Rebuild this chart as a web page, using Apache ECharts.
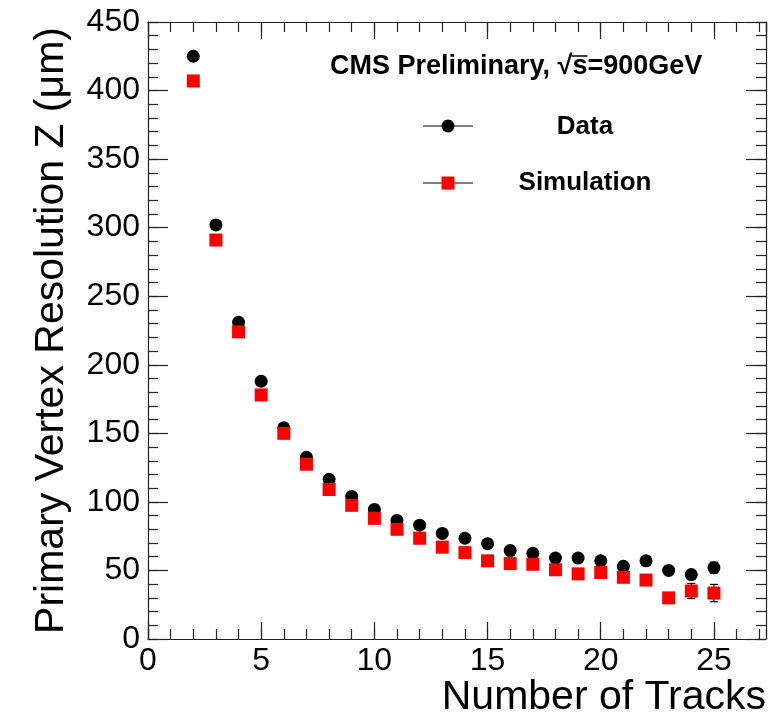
<!DOCTYPE html>
<html>
<head>
<meta charset="utf-8">
<script src="https://cdn.jsdelivr.net/npm/echarts@6/dist/echarts.min.js"></script>
<style>
  html, body { margin: 0; padding: 0; background: #fff; }
  #chart { width: 769px; height: 725px; }
</style>
</head>
<body>
<div id="chart"></div>
<script>
// number of tracks
var tracks = [2, 3, 4, 5, 6, 7, 8, 9, 10, 11, 12, 13, 14, 15, 16, 17, 18, 19, 20, 21, 22, 23, 24, 25];
// primary vertex resolution z, data (um)
var dataRes = [425, 302, 231, 188, 154, 132.5, 116.5, 104, 94.5, 86.5, 83, 77, 73.5, 69.5, 64.5, 62.5, 59, 59, 57, 53, 57, 50, 47, 52];
var dataErr = [1.5, 1.5, 1.5, 1.5, 1.5, 1.5, 1.5, 1.5, 1.5, 1.5, 1.5, 1.5, 2, 2, 2, 2, 2, 2, 2.5, 2.5, 2.5, 3, 3, 4];
// simulation
var simRes = [407, 291, 224, 178, 150, 127.5, 109, 97.5, 88, 80, 73.5, 67, 63, 57, 55, 54.5, 50.5, 47.5, 48.5, 45, 43, 30, 35, 33.5];
var simErr = [1.5, 1.5, 1.5, 1.5, 1.5, 1.5, 1.5, 1.5, 1.5, 1.5, 1.5, 1.5, 2, 2, 2, 2, 2.5, 2.5, 2.5, 3, 3, 3.5, 5.5, 6.3];

var FONT = 'Liberation Sans, Arial, Helvetica, sans-serif';

function pairs(xs, ys) {
  return xs.map(function (x, i) { return [x, ys[i]]; });
}
function errRows(xs, ys, es) {
  return xs.map(function (x, i) { return [x, ys[i] - es[i], ys[i] + es[i]]; });
}
function errItem(params, api) {
  var x = api.value(0);
  var lo = api.coord([x, api.value(1)]);
  var hi = api.coord([x, api.value(2)]);
  var st = { stroke: '#000', lineWidth: 1.2 };
  return {
    type: 'group',
    children: [
      { type: 'line', shape: { x1: lo[0], y1: lo[1], x2: hi[0], y2: hi[1] }, style: st },
      { type: 'line', shape: { x1: lo[0] - 4, y1: lo[1], x2: lo[0] + 4, y2: lo[1] }, style: st },
      { type: 'line', shape: { x1: hi[0] - 4, y1: hi[1], x2: hi[0] + 4, y2: hi[1] }, style: st }
    ]
  };
}

var tickLine = { color: '#222', width: 1.2 };
var labelStyle = { show: true, fontSize: 32, fontFamily: FONT, color: '#000' };

// grid 0 holds the major ticks + labels, grid 1 (same box) the minor ticks
function xAx(grid, pos, interval, len, labels) {
  return {
    type: 'value', gridIndex: grid, position: pos, min: 0, max: 27.3, interval: interval,
    axisLine: { show: grid === 0, onZero: false, lineStyle: tickLine },
    axisTick: { show: true, inside: true, length: len, lineStyle: tickLine },
    axisLabel: labels ? Object.assign({ margin: 6, showMaxLabel: false }, labelStyle) : { show: false },
    splitLine: { show: false }
  };
}
function yAx(grid, pos, interval, len, labels) {
  return {
    type: 'value', gridIndex: grid, position: pos, min: 0, max: 450, interval: interval,
    axisLine: { show: grid === 0, onZero: false, lineStyle: tickLine },
    axisTick: { show: true, inside: true, length: len, lineStyle: tickLine },
    axisLabel: labels ? Object.assign({ margin: 8 }, labelStyle) : { show: false },
    splitLine: { show: false }
  };
}

var xAxes = [
  xAx(0, 'bottom', 5, 17, true),
  xAx(0, 'top', 5, 17, false),
  xAx(1, 'bottom', 1, 10, false),
  xAx(1, 'top', 1, 10, false)
];

var yAxes = [
  yAx(0, 'left', 50, 20, true),
  yAx(0, 'right', 50, 20, false),
  yAx(1, 'left', 10, 10, false),
  yAx(1, 'right', 10, 10, false)
];
yAxes[0].name = 'Primary Vertex Resolution Z (\u03bcm)';
yAxes[0].nameLocation = 'middle';
yAxes[0].nameGap = 76;
yAxes[0].nameTextStyle = { fontSize: 41, fontFamily: FONT, color: '#000' };

// overline for sqrt(s)
var titleFont = 'bold 27px ' + FONT;
var ctx = document.createElement('canvas').getContext('2d');
ctx.font = titleFont;
var titleLeft = 330;
var preW = ctx.measureText('CMS Preliminary, \u221a').width;
var sW = ctx.measureText('s').width;

var box = { left: 148, right: 3, top: 22, bottom: 86, containLabel: false, outerBoundsMode: 'none' };

var chart = echarts.init(document.getElementById('chart'));
chart.setOption({
  animation: false,
  grid: [box, Object.assign({}, box)],
  xAxis: xAxes,
  yAxis: yAxes,
  series: [
    { type: 'custom', renderItem: errItem, data: errRows(tracks, dataRes, dataErr), encode: { x: 0, y: [1, 2] }, z: 2 },
    { type: 'scatter', data: pairs(tracks, dataRes), symbol: 'circle', symbolSize: 13, itemStyle: { color: '#000', opacity: 1 }, z: 3 },
    { type: 'custom', renderItem: errItem, data: errRows(tracks, simRes, simErr), encode: { x: 0, y: [1, 2] }, z: 4 },
    { type: 'scatter', data: pairs(tracks, simRes), symbol: 'rect', symbolSize: 13, itemStyle: { color: '#ff0000', opacity: 1 }, z: 5 }
  ],
  graphic: [
    { type: 'text', right: 3, top: 677, style: { text: 'Number of Tracks', font: '41px ' + FONT, fill: '#000' } },
    { type: 'text', left: titleLeft, top: 53, style: { text: 'CMS Preliminary, \u221as=900GeV', font: titleFont, fill: '#000' } },
    { type: 'line', shape: { x1: titleLeft + preW - 1, y1: 56, x2: titleLeft + preW + sW, y2: 56 }, style: { stroke: '#000', lineWidth: 1.5 } },
    { type: 'line', shape: { x1: 423, y1: 126, x2: 473, y2: 126 }, style: { stroke: '#000', lineWidth: 1.2 } },
    { type: 'circle', shape: { cx: 448, cy: 126, r: 6.5 }, style: { fill: '#000' } },
    { type: 'text', x: 585, y: 127, style: { text: 'Data', font: 'bold 26px ' + FONT, fill: '#000', align: 'center', verticalAlign: 'middle' } },
    { type: 'line', shape: { x1: 423, y1: 183, x2: 473, y2: 183 }, style: { stroke: '#000', lineWidth: 1.2 } },
    { type: 'rect', shape: { x: 441.5, y: 176.5, width: 13, height: 13 }, style: { fill: '#ff0000' } },
    { type: 'text', x: 585, y: 183, style: { text: 'Simulation', font: 'bold 26px ' + FONT, fill: '#000', align: 'center', verticalAlign: 'middle' } }
  ]
});
</script>
</body>
</html>
